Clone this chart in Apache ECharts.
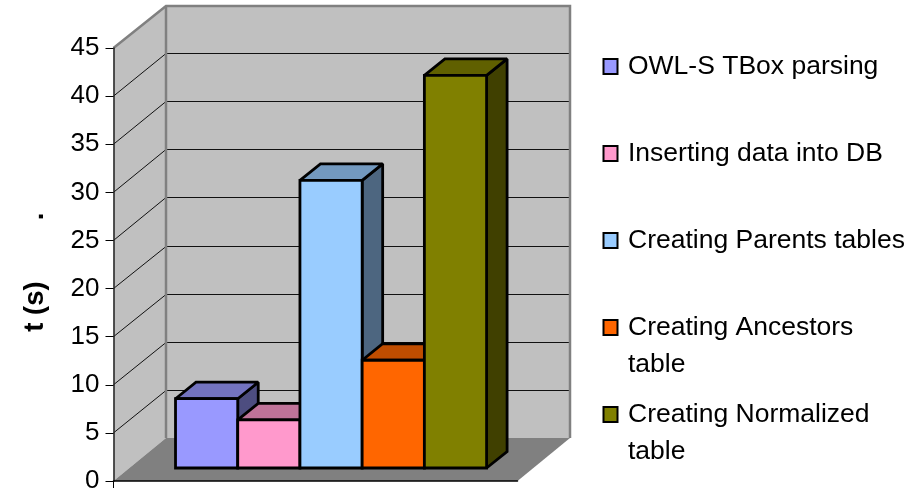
<!DOCTYPE html>
<html><head><meta charset="utf-8">
<style>html,body{margin:0;padding:0;background:#fff}#c{width:915px;height:489px}</style>
<script src="https://cdn.jsdelivr.net/npm/echarts@6/dist/echarts.min.js"></script>
</head><body><div id="c"></div>
<script>
const seriesNames = ['OWL-S TBox parsing','Inserting data into DB','Creating Parents tables','Creating Ancestors table','Creating Normalized table'];
const legendLines = [['OWL-S TBox parsing'],['Inserting data into DB'],['Creating Parents tables'],['Creating Ancestors','table'],['Creating Normalized','table']];
const seriesValues = [7.2, 5, 29.9, 11.2, 40.8];
const seriesColors = ['#9999FF','#FF99CC','#99CCFF','#FF6600','#808000'];
const yTicks = [0,5,10,15,20,25,30,35,40,45];
const yAxisTitle = 't (s)        .  ';

const WALL_DX = 52.5, WALL_DY = -43;
const BAR_DX = 20.5, BAR_DY = -16.5;
const BAR_LIFT = 13;
const BAR_START = 0.1535, BAR_WIDTH = 0.154;
const LEGEND_LEFT = 602.5, LEGEND_TOPS = [48, 135, 222, 272, 359];

function shade(hex, f){
  const n = parseInt(hex.slice(1),16);
  const c = [n>>16,(n>>8)&255,n&255].map(v=>Math.round(v*f));
  return 'rgb('+c.join(',')+')';
}
function renderWalls(params, api){
  const o = api.coord([0,0]), w = api.size([1,0])[0];
  const x0 = o[0]-w/2, x1 = o[0]+w/2, y0 = o[1];
  const yt = api.coord([0,45])[1];
  const bx0 = x0+WALL_DX, bx1 = x1+WALL_DX, by0 = y0+WALL_DY, byt = yt+WALL_DY+1;
  const gray = '#808080';
  const ch = [
    {type:'polygon',shape:{points:[[x0,yt],[bx0,byt],[bx0,by0],[x0,y0]]},style:{fill:'#C0C0C0'}},
    {type:'polygon',shape:{points:[[bx0,byt],[bx1,byt],[bx1,by0],[bx0,by0]]},style:{fill:'#C0C0C0'}},
    {type:'polygon',shape:{points:[[x0,y0],[bx0,by0],[bx1,by0],[x1,y0]]},style:{fill:gray}}
  ];
  yTicks.forEach(v=>{
    if(v===0||v===45) return;
    const y = api.coord([0,v])[1];
    const by = Math.round(y+WALL_DY)+0.5;
    ch.push({type:'polyline',shape:{points:[[x0,y],[bx0,by],[bx1,by]]},style:{fill:'none',stroke:'#111',lineWidth:1}});
  });
  ch.push({type:'polyline',shape:{points:[[x0,yt],[bx0,byt],[bx1,byt],[bx1,by0]]},style:{fill:'none',stroke:gray,lineWidth:2.5}});
  ch.push({type:'line',shape:{x1:bx0,y1:byt,x2:bx0,y2:by0},style:{stroke:gray,lineWidth:2.5}});
  ch.push({type:'line',shape:{x1:x0,y1:y0,x2:x0,y2:y0+7},style:{stroke:'#000',lineWidth:1}});
  return {type:'group',children:ch};
}
function renderBar(idx){
  return function(params, api){
    const o = api.coord([0,0]), w = api.size([1,0])[0];
    const l = o[0]-w/2+w*(BAR_START+BAR_WIDTH*idx), r = l+w*BAR_WIDTH;
    const b = o[1]-BAR_LIFT, t = api.coord([0,api.value(1)])[1]-BAR_LIFT;
    const color = seriesColors[idx];
    const line = {stroke:'#000',lineWidth:2.8,lineJoin:'miter',miterLimit:2};
    return {type:'group',children:[
      {type:'polygon',shape:{points:[[r,t],[r+BAR_DX,t+BAR_DY],[r+BAR_DX,b+BAR_DY],[r,b]]},style:{fill:shade(color,0.5),...line}},
      {type:'polygon',shape:{points:[[l,t],[l+BAR_DX,t+BAR_DY],[r+BAR_DX,t+BAR_DY],[r,t]]},style:{fill:shade(color,0.75),...line}},
      {type:'polygon',shape:{points:[[l,t],[r,t],[r,b],[l,b]]},style:{fill:color,...line}}
    ]};
  };
}
const chart = echarts.init(document.getElementById('c'),null,{renderer:'canvas'});
chart.setOption({
  animation:false,
  backgroundColor:'#fff',
  textStyle:{fontFamily:'"Liberation Sans"'},
  grid:{left:113.5,right:397.5,top:48,bottom:8,outerBoundsMode:'none'},
  xAxis:{type:'category',data:[''],z:10,axisLine:{lineStyle:{color:'#000',width:1.5}},axisTick:{show:false},axisLabel:{show:false}},
  yAxis:{type:'value',min:0,max:45,interval:5,z:10,
    name:yAxisTitle,nameLocation:'middle',nameGap:64,nameRotate:90,
    nameTextStyle:{fontSize:27.5,fontWeight:'bold',color:'#000',fontFamily:'"Liberation Sans"'},
    axisLine:{show:true,lineStyle:{color:'#222',width:1.5}},
    axisTick:{show:true,length:8,lineStyle:{color:'#000',width:1}},
    axisLabel:{fontSize:26,color:'#000',margin:14,fontFamily:'"Liberation Sans"'},
    splitLine:{show:false}},
  legend: seriesNames.map((n,i)=>({
    data:[{name:n,icon:'rect'}],
    left:LEGEND_LEFT, top:LEGEND_TOPS[i], padding:0,
    itemWidth:14,itemHeight:15,
    itemStyle:{borderColor:'#000',borderWidth:2},
    selectedMode:false,
    formatter:()=>(legendLines[i].length>1?'\n':'')+legendLines[i].join('\n'),
    textStyle:{fontSize:26.5,color:'#000',fontFamily:'"Liberation Sans"',lineHeight:37,padding:[0,0,0,5.5]}
  })),
  series:[
    {type:'custom',name:'walls',silent:true,z:1,data:[[0,0]],encode:{x:0,y:1},renderItem:renderWalls},
    ...seriesNames.map((n,i)=>({type:'custom',name:n,z:3+i,itemStyle:{color:seriesColors[i]},
      data:[[0,seriesValues[i]]],encode:{x:0,y:1},renderItem:renderBar(i)}))
  ]
});
</script></body></html>
